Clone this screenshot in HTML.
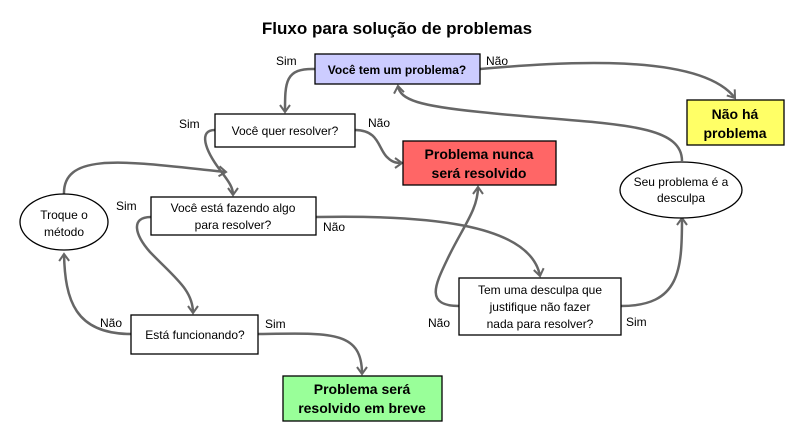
<!DOCTYPE html>
<html><head><meta charset="utf-8"><style>
html,body{margin:0;padding:0;background:#fff;width:804px;height:441px;overflow:hidden}
svg text{font-family:"Liberation Sans",sans-serif;fill:#000}
</style></head><body>
<svg width="804" height="441" viewBox="0 0 804 441" xmlns="http://www.w3.org/2000/svg">
<defs>
<marker id="a" markerWidth="12" markerHeight="12" refX="9" refY="6" orient="auto" markerUnits="userSpaceOnUse">
<path d="M2,1 L9,6 L2,11" fill="none" stroke="#666" stroke-width="2"/>
</marker>
</defs>
<text x="397" y="34" text-anchor="middle" font-size="17" font-weight="bold">Fluxo para solução de problemas</text>
<g fill="none" stroke="#666" stroke-width="2.5" marker-end="url(#a)">
<path d="M315,69 C285,68 285,82 285,112"/>
<path d="M215,130 C198,130 205,150 220,170 C230,183 233,188 233,195"/>
<path d="M64,195 C62,150 130,162 226,172"/>
<path d="M355,130 C380,130 378,150 388,158 C393,163 398,163 402,163"/>
<path d="M151,217 C130,217 135,235 150,252 C175,278 193,290 193,313"/>
<path d="M316,217 C420,215 530,222 540,276"/>
<path d="M459,306 C425,306 435,285 447,260 C462,228 478,210 478,187"/>
<path d="M621,306 C680,306 682,270 682,218"/>
<path d="M682,161 C682,120 600,125 480,112 C420,106 400,100 398,86"/>
<path d="M480,69 C560,62 700,52 735,98"/>
<path d="M131,334 C75,334 65,300 64,254"/>
<path d="M258,334 C330,333 362,330 362,374"/>
</g>
<g stroke="#000" stroke-width="1.3">
<rect x="315" y="54" width="165" height="30" fill="#ccccff"/>
<rect x="215" y="114" width="140" height="33" fill="#fff"/>
<rect x="403" y="141" width="153" height="44" fill="#ff6666"/>
<rect x="687" y="100" width="97" height="45" fill="#ffff66"/>
<ellipse cx="681" cy="190" rx="61" ry="28" fill="#fff"/>
<ellipse cx="64" cy="222" rx="44" ry="28" fill="#fff"/>
<rect x="151" y="197" width="165" height="38" fill="#fff"/>
<rect x="459" y="278" width="162" height="57" fill="#fff"/>
<rect x="131" y="315" width="127" height="39" fill="#fff"/>
<rect x="283" y="376" width="159" height="45" fill="#99ff99"/>
</g>
<g font-size="12" text-anchor="middle">
<text x="397" y="74" font-weight="bold">Você tem um problema?</text>
<text x="285" y="135">Você quer resolver?</text>
<text x="479" y="159" font-size="14" font-weight="bold">Problema nunca</text>
<text x="479" y="178" font-size="14" font-weight="bold">será resolvido</text>
<text x="735" y="119" font-size="14" font-weight="bold">Não há</text>
<text x="735" y="138" font-size="14" font-weight="bold">problema</text>
<text x="681" y="186">Seu problema é a</text>
<text x="681" y="202">desculpa</text>
<text x="64" y="219">Troque o</text>
<text x="64" y="236">método</text>
<text x="233" y="212">Você está fazendo algo</text>
<text x="233" y="229">para resolver?</text>
<text x="540" y="294">Tem uma desculpa que</text>
<text x="540" y="311">justifique não fazer</text>
<text x="540" y="328">nada para resolver?</text>
<text x="195" y="339">Está funcionando?</text>
<text x="362" y="394" font-size="14" font-weight="bold">Problema será</text>
<text x="362" y="413" font-size="14" font-weight="bold">resolvido em breve</text>
</g>
<g font-size="12">
<text x="276" y="65">Sim</text>
<text x="486" y="65">Não</text>
<text x="179" y="128">Sim</text>
<text x="368" y="127">Não</text>
<text x="116" y="210">Sim</text>
<text x="323" y="231">Não</text>
<text x="100" y="327">Não</text>
<text x="265" y="328">Sim</text>
<text x="428" y="327">Não</text>
<text x="626" y="326">Sim</text>
</g>
</svg>
</body></html>
